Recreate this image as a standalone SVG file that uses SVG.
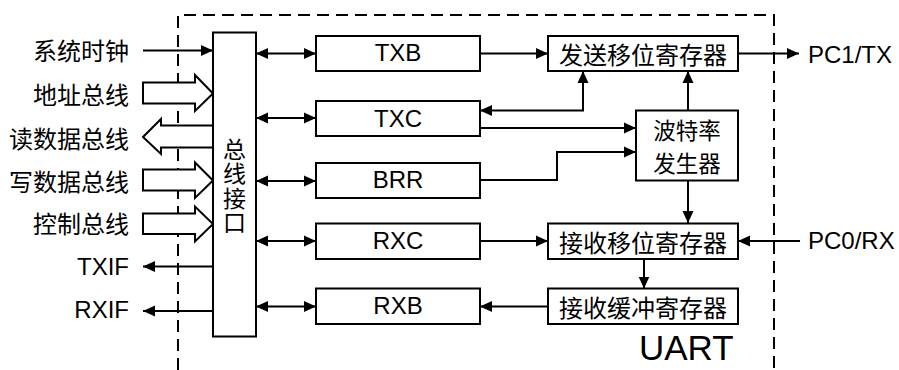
<svg xmlns="http://www.w3.org/2000/svg" width="899" height="370" viewBox="0 0 899 370">
<style>
.box{fill:#fff;stroke:#000;stroke-width:2}
.ln{fill:none;stroke:#000;stroke-width:2}
.dash{fill:none;stroke:#000;stroke-width:2;stroke-dasharray:12 7}
.hol{fill:#fff;stroke:#000;stroke-width:2;stroke-linejoin:miter}
.en{font-family:"Liberation Sans",Arial,sans-serif;font-size:24px;fill:#000}
.cn{font-family:"Noto Sans CJK SC","Liberation Sans",sans-serif;font-size:24px;fill:#000;dominant-baseline:central}
.mid{text-anchor:middle}
.end{text-anchor:end}
</style>
<defs>
<marker id="ah" viewBox="0 0 12 12" refX="12" refY="6" markerWidth="12" markerHeight="12" markerUnits="userSpaceOnUse" orient="auto-start-reverse">
<path d="M0,0.5 L12,6 L0,11.5 z" fill="#000"/>
</marker>
</defs>

<g id="uart-boundary">
<path class="dash" d="M178,370 V15 H774 V370"/>
<text class="en" x="639" y="360" style="font-size:35px">UART</text>
</g>

<g id="connectors">
<!-- external inputs/outputs -->
<line class="ln" x1="143" y1="50.5" x2="213" y2="50.5" marker-end="url(#ah)"/>
<line class="ln" x1="213" y1="266.5" x2="143" y2="266.5" marker-end="url(#ah)"/>
<line class="ln" x1="213" y1="311" x2="143" y2="311" marker-end="url(#ah)"/>
<polygon class="hol" points="143,82.5 195,82.5 195,75 213,93.5 195,111 195,103.5 143,103.5"/>
<path class="hol" d="M213,125.5 H161 V119 L143,137 L161,154 V147.5 H213"/>
<polygon class="hol" points="143,169.5 195,169.5 195,162.5 213,180.5 195,198 195,190.5 143,190.5"/>
<polygon class="hol" points="143,213.5 195,213.5 195,206.5 213,224 195,241.5 195,234 143,234"/>
<!-- bus interface to registers -->
<line class="ln" x1="256" y1="53.5" x2="316" y2="53.5" marker-start="url(#ah)" marker-end="url(#ah)"/>
<line class="ln" x1="256" y1="118" x2="316" y2="118" marker-start="url(#ah)" marker-end="url(#ah)"/>
<line class="ln" x1="256" y1="181" x2="316" y2="181" marker-start="url(#ah)" marker-end="url(#ah)"/>
<line class="ln" x1="256" y1="241" x2="316" y2="241" marker-start="url(#ah)" marker-end="url(#ah)"/>
<line class="ln" x1="256" y1="306.5" x2="316" y2="306.5" marker-start="url(#ah)" marker-end="url(#ah)"/>
<!-- internal -->
<line class="ln" x1="480" y1="53.5" x2="548" y2="53.5" marker-end="url(#ah)"/>
<line class="ln" x1="738" y1="53.5" x2="799" y2="53.5" marker-end="url(#ah)"/>
<polyline class="ln" points="480,110.5 583,110.5 583,71" marker-start="url(#ah)" marker-end="url(#ah)"/>
<line class="ln" x1="480" y1="128" x2="636" y2="128" marker-end="url(#ah)"/>
<polyline class="ln" points="480,180 557,180 557,152 636,152" marker-end="url(#ah)"/>
<line class="ln" x1="688" y1="110.5" x2="688" y2="71" marker-end="url(#ah)"/>
<line class="ln" x1="688" y1="181" x2="688" y2="223" marker-end="url(#ah)"/>
<line class="ln" x1="480" y1="241" x2="548" y2="241" marker-end="url(#ah)"/>
<line class="ln" x1="800" y1="241" x2="738" y2="241" marker-end="url(#ah)"/>
<line class="ln" x1="644" y1="259" x2="644" y2="288.5" marker-end="url(#ah)"/>
<line class="ln" x1="548" y1="306.5" x2="480" y2="306.5" marker-end="url(#ah)"/>
</g>

<g id="labels-left">
<text class="cn end" x="129" y="49.5">系统时钟</text>
<text class="cn end" x="129" y="93">地址总线</text>
<text class="cn end" x="129" y="137">读数据总线</text>
<text class="cn end" x="129" y="180">写数据总线</text>
<text class="cn end" x="129" y="222.5">控制总线</text>
<text class="en end" x="129" y="274.5">TXIF</text>
<text class="en end" x="129" y="318">RXIF</text>
</g>

<g id="bus-interface">
<rect class="box" x="213" y="32.5" width="43" height="304"/>
<text x="234.5" y="186.5" text-anchor="middle" writing-mode="vertical-rl" style="font-family:'Noto Sans CJK SC',sans-serif;font-size:23px;letter-spacing:1.5px;fill:#000">总线接口</text>
</g>

<g id="TXB"><rect class="box" x="316" y="36" width="164" height="35"/><text class="en mid" x="398" y="61">TXB</text></g>
<g id="TXC"><rect class="box" x="316" y="101" width="164" height="35"/><text class="en mid" x="398" y="126.5">TXC</text></g>
<g id="BRR"><rect class="box" x="316" y="163" width="164" height="35"/><text class="en mid" x="398" y="188">BRR</text></g>
<g id="RXC"><rect class="box" x="316" y="223.5" width="164" height="35.5"/><text class="en mid" x="398" y="248.5">RXC</text></g>
<g id="RXB"><rect class="box" x="316" y="288.5" width="164" height="35.5"/><text class="en mid" x="398" y="313.5">RXB</text></g>

<g id="tx-shift"><rect class="box" x="548" y="36" width="190" height="35"/><text class="cn mid" x="643" y="53.5">发送移位寄存器</text></g>
<g id="baud-gen"><rect class="box" x="636" y="110.5" width="102" height="70"/><text class="cn mid" style="font-size:22.5px"><tspan x="687" y="129">波特率</tspan><tspan x="687" y="162">发生器</tspan></text></g>
<g id="rx-shift"><rect class="box" x="548" y="223.5" width="190" height="35.5"/><text class="cn mid" x="643" y="241">接收移位寄存器</text></g>
<g id="rx-buffer"><rect class="box" x="548" y="288.5" width="190" height="35.5"/><text class="cn mid" x="643" y="306">接收缓冲寄存器</text></g>

<g id="labels-right">
<text class="en" x="808" y="63">PC1/TX</text>
<text class="en" x="808" y="249">PC0/RX</text>
</g>
</svg>
